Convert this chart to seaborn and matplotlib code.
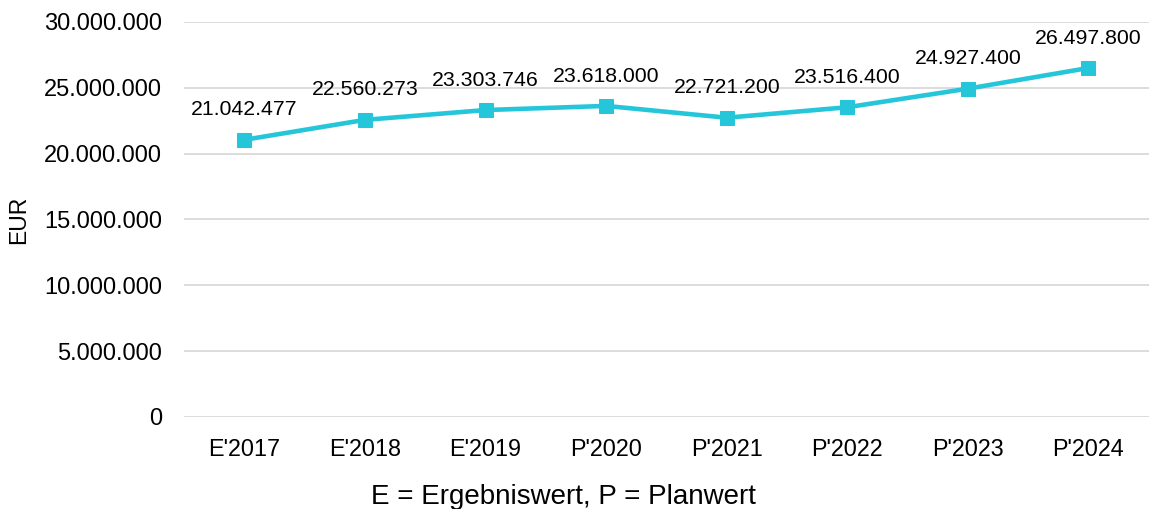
import matplotlib
matplotlib.use("Agg")
import matplotlib.pyplot as plt
import seaborn as sns
import pandas as pd
from matplotlib.ticker import FuncFormatter

categories = ["E'2017", "E'2018", "E'2019", "P'2020", "P'2021", "P'2022", "P'2023", "P'2024"]
values = [21042477, 22560273, 23303746, 23618000, 22721200, 23516400, 24927400, 26497800]
yticks = [0, 5000000, 10000000, 15000000, 20000000, 25000000, 30000000]

sns.set_style("white")
plt.rcParams['font.family'] = ['Liberation Sans', 'DejaVu Sans']

df = pd.DataFrame({"cat": categories, "val": values})

fig = plt.figure(figsize=(11.51, 5.09), dpi=100)
ax = fig.add_axes([0.16, 0.181, 0.838, 0.776])

color = "#26C6DA"
sns.lineplot(data=df, x="cat", y="val", ax=ax, color=color, linewidth=3.3,
             marker="s", markersize=9.5, markeredgecolor=color, sort=False)

def fmt(v):
    return f"{int(round(v)):,}".replace(",", ".")

for i, v in enumerate(values):
    ax.annotate(fmt(v), (i, v), xytext=(0, 21.5), textcoords="offset points",
                ha="center", va="center", fontsize=15.3, color="#000000")

ax.set_xlim(-0.5, len(categories) - 0.5)
ax.set_ylim(0, 30000000)
ax.set_yticks(yticks)
ax.yaxis.set_major_formatter(FuncFormatter(lambda v, p: fmt(v)))
ax.grid(axis="y", color="#d9d9d9", linewidth=1.3)
ax.grid(axis="x", visible=False)
for s in ax.spines.values():
    s.set_visible(False)
ax.tick_params(axis="both", length=0)
ax.tick_params(axis="y", labelsize=17, pad=16, colors="#000000")
ax.tick_params(axis="x", labelsize=16.8, pad=15, colors="#000000")
ax.set_ylabel("EUR", fontsize=16.5, color="#000000")
ax.yaxis.set_label_coords((30 - 184) / 965, 0.5)
ax.set_xlabel("E = Ergebniswert, P = Planwert", fontsize=20, labelpad=17, color="#000000")
ax.xaxis.label.set_x((563 - 184) / 965)

fig.savefig("out.png", dpi=100)
